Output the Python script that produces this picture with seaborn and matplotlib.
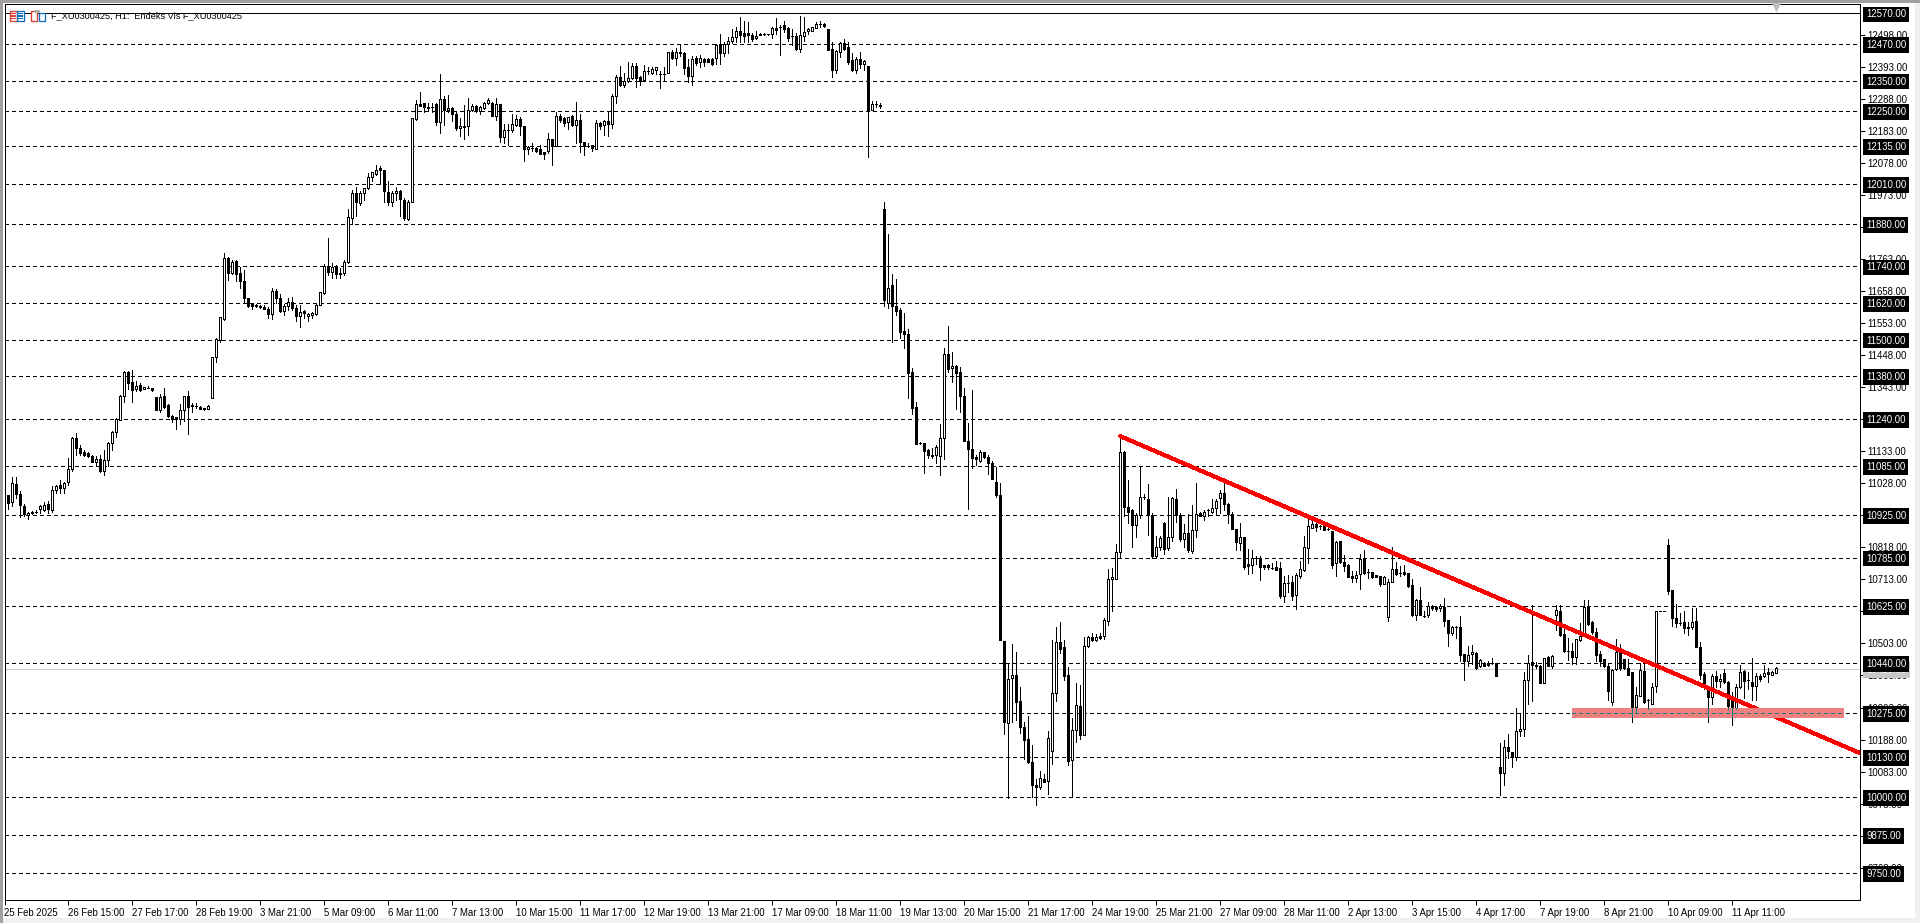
import matplotlib
matplotlib.use("Agg")
import matplotlib.pyplot as plt
from matplotlib.patches import Rectangle
import numpy as np
import pandas as pd
import seaborn as sns

# hourly candles, ten bars to a row
opens = [
    10990,10990,10966,11026,10994,10955,10923,10930,10935,10944,
    10940,10961,10940,11007,11023,11012,11032,11075,11177,11144,
    11131,11128,11119,11100,11108,11068,11105,11160,11197,11237,
    11316,11393,11360,11338,11351,11338,11341,11340,11312,11269,
    11315,11284,11250,11245,11239,11268,11315,11284,11283,11280,
    11276,11272,11310,11444,11499,11568,11768,11720,11757,11717,
    11693,11635,11616,11612,11609,11606,11599,11584,11661,11638,
    11594,11609,11625,11604,11576,11593,11577,11582,11585,11615,
    11652,11742,11722,11738,11715,11720,11755,11898,11981,11947,
    11981,11996,12033,12045,12062,12056,11985,11950,11980,11988,
    11958,11895,11952,12224,12274,12277,12264,12262,12274,12214,
    12291,12252,12261,12241,12195,12202,12202,12252,12265,12250,
    12260,12276,12275,12234,12272,12164,12189,12189,12203,12225,
    12202,12124,12128,12128,12125,12115,12120,12158,12135,12233,
    12226,12213,12234,12204,12219,12150,12135,12137,12127,12212,
    12205,12218,12208,12300,12361,12336,12347,12358,12398,12362,
    12351,12381,12374,12385,12372,12372,12374,12445,12425,12443,
    12439,12395,12366,12424,12412,12421,12420,12421,12423,12469,
    12442,12470,12479,12492,12512,12505,12505,12500,12490,12504,
    12502,12504,12503,12522,12527,12531,12522,12496,12496,12454,
    12497,12512,12514,12524,12536,12537,12519,12452,12383,12445,
    12472,12461,12418,12385,12420,12405,12398,12255,12272,12269,
    11930,11621,11680,11610,11597,11527,11520,11393,11278,11162,
    11160,11138,11122,11120,11118,11177,11452,11406,11413,11393,
    11314,11167,11141,11115,11101,11131,11115,11095,11033,10990,
    10510,10242,10389,10399,10314,10229,10190,10115,10039,10033,
    10059,10052,10149,10340,10507,10491,10399,10120,10218,10298,
    10204,10494,10523,10516,10526,10526,10576,10713,10714,10802,
    11132,10952,10940,10892,10924,10985,10978,10925,10791,10818,
    10897,10816,10851,10976,10925,10847,10867,10806,10876,10932,
    10920,10940,10935,10949,10980,10998,10962,10929,10880,10832,
    10854,10763,10761,10783,10785,10760,10760,10752,10755,10750,
    10660,10703,10704,10663,10723,10745,10815,10883,10894,10887,
    10889,10880,10871,10767,10838,10769,10761,10723,10719,10731,
    10780,10736,10736,10727,10723,10698,10589,10706,10748,10734,
    10736,10734,10695,10595,10645,10594,10598,10626,10623,10618,
    10623,10579,10536,10558,10556,10468,10447,10468,10473,10430,
    10436,10438,10439,10439,10098,10077,10164,10147,10131,10215,
    10223,10383,10443,10434,10430,10375,10458,10430,10595,10610,
    10533,10480,10479,10460,10515,10531,10624,10572,10542,10470,
    10451,10429,10310,10419,10476,10451,10422,10410,10296,10332,
    10412,10316,10306,10362,10610,10610,10827,10680,10586,10570,
    10573,10557,10557,10576,10492,10403,10359,10329,10395,10381,
    10407,10378,10316,10289,10359,10412,10382,10377,10364,10397,
    10397,10408,10401,10407,
]
closes = [
    10977,10964,11030,10994,10957,10927,10930,10936,10936,10954,
    10958,10945,11007,11020,11012,11030,11075,11177,11143,11128,
    11122,11117,11100,11108,11068,11105,11160,11197,11241,11315,
    11393,11359,11335,11347,11335,11344,11342,11335,11269,11312,
    11280,11248,11239,11239,11268,11314,11280,11282,11281,11274,
    11271,11283,11444,11501,11573,11768,11720,11756,11715,11693,
    11638,11611,11610,11609,11606,11601,11584,11661,11637,11594,
    11609,11624,11604,11576,11592,11586,11585,11586,11615,11657,
    11742,11722,11738,11715,11720,11755,11903,11981,11951,11981,
    11997,12033,12049,12056,12056,11986,11950,11981,11989,11961,
    11898,11952,12228,12274,12268,12263,12259,12262,12214,12290,
    12252,12261,12240,12195,12202,12199,12254,12265,12250,12262,
    12277,12287,12234,12272,12164,12189,12189,12206,12225,12201,
    12124,12132,12128,12120,12110,12110,12157,12134,12235,12220,
    12211,12232,12204,12219,12149,12135,12135,12128,12212,12200,
    12218,12208,12300,12361,12336,12348,12358,12398,12359,12349,
    12381,12381,12387,12393,12372,12372,12443,12425,12443,12440,
    12391,12366,12420,12409,12423,12411,12412,12405,12467,12440,
    12470,12479,12492,12512,12500,12497,12499,12487,12497,12499,
    12502,12503,12522,12517,12527,12519,12491,12496,12454,12499,
    12510,12519,12525,12536,12536,12529,12450,12383,12447,12472,
    12454,12410,12385,12420,12405,12415,12255,12273,12272,12267,
    11630,11670,11611,11594,11526,11519,11392,11277,11158,11160,
    11133,11120,11117,11149,11177,11452,11404,11415,11392,11316,
    11166,11140,11112,11107,11131,11114,11095,11042,10990,10513,
    10244,10386,10399,10310,10228,10185,10113,10038,10032,10062,
    10050,10193,10340,10507,10486,10397,10117,10218,10301,10204,
    10494,10523,10515,10523,10520,10579,10713,10720,10802,11132,
    10952,10935,10892,10924,10985,10985,10925,10791,10818,10848,
    10812,10851,10979,10925,10845,10867,10809,10876,10929,10922,
    10935,10940,10949,10971,10998,10962,10927,10878,10836,10854,
    10755,10758,10782,10783,10755,10755,10755,10752,10745,10660,
    10700,10703,10660,10729,10747,10818,10887,10894,10885,10887,
    10877,10880,10760,10837,10769,10758,10722,10717,10729,10780,
    10733,10736,10720,10722,10698,10720,10706,10746,10731,10734,
    10731,10693,10595,10645,10598,10594,10626,10618,10616,10627,
    10578,10536,10556,10557,10464,10447,10466,10475,10424,10448,
    10430,10433,10439,10395,10077,10164,10150,10130,10216,10223,
    10383,10439,10434,10430,10375,10455,10430,10462,10613,10531,
    10479,10480,10460,10517,10529,10622,10566,10540,10466,10446,
    10429,10348,10416,10476,10421,10424,10399,10283,10335,10415,
    10310,10316,10361,10610,10610,10610,10676,10588,10570,10570,
    10553,10553,10573,10492,10400,10359,10329,10395,10381,10388,
    10377,10299,10291,10359,10410,10381,10382,10362,10397,10386,
    10407,10404,10410,10421,
]
highs = [
    10997,10990,11049,11049,11002,10960,10933,10938,10942,10956,
    10967,10969,11019,11024,11038,11033,11111,11182,11193,11153,
    11139,11132,11122,11119,11122,11139,11163,11200,11244,11318,
    11398,11398,11400,11364,11357,11345,11348,11341,11312,11321,
    11340,11288,11252,11247,11289,11314,11332,11291,11293,11281,
    11276,11286,11444,11504,11573,11785,11771,11762,11760,11738,
    11727,11638,11618,11618,11612,11612,11607,11671,11667,11651,
    11618,11635,11640,11613,11613,11597,11586,11591,11621,11657,
    11747,11834,11751,11745,11735,11760,11928,11992,12001,11986,
    11997,12046,12051,12072,12070,12056,12022,11986,12001,11990,
    11965,11959,12228,12285,12314,12277,12277,12277,12276,12371,
    12298,12304,12262,12248,12228,12270,12293,12272,12270,12268,
    12279,12293,12278,12293,12274,12207,12207,12239,12236,12230,
    12202,12135,12144,12131,12140,12116,12179,12158,12247,12241,
    12230,12232,12236,12281,12241,12150,12144,12138,12222,12213,
    12222,12247,12306,12369,12398,12374,12411,12407,12407,12365,
    12400,12396,12393,12393,12380,12396,12445,12450,12458,12469,
    12445,12420,12431,12429,12434,12423,12423,12423,12469,12502,
    12478,12492,12518,12525,12557,12546,12541,12505,12513,12505,
    12505,12504,12527,12554,12532,12546,12527,12520,12505,12563,
    12560,12522,12525,12543,12544,12540,12519,12478,12450,12478,
    12487,12475,12440,12427,12444,12418,12398,12282,12282,12276,
    11952,11845,11714,11698,11605,11586,11534,11407,11295,11165,
    11161,11142,11144,11153,11224,11472,11544,11458,11416,11410,
    11340,11226,11335,11122,11139,11132,11122,11102,11082,11028,
    10510,10438,10502,10474,10360,10244,10266,10170,10059,10085,
    10076,10217,10515,10556,10573,10515,10425,10260,10373,10368,
    10524,10528,10537,10533,10537,10586,10747,10752,10829,11183,
    11134,11038,10944,10932,11085,10992,11027,10930,10856,10856,
    10902,10985,10985,11009,10930,10894,10927,10957,11028,10935,
    10941,10945,10978,10978,11007,11030,10965,10935,10880,10897,
    10854,10812,10810,10791,10791,10762,10765,10767,10774,10771,
    10725,10727,10725,10734,10774,10856,10924,10905,10899,10892,
    10890,10887,10873,10839,10840,10793,10763,10742,10742,10796,
    10809,10747,10736,10727,10723,10725,10715,10818,10771,10758,
    10761,10735,10715,10649,10690,10611,10638,10630,10625,10632,
    10652,10581,10560,10560,10593,10470,10495,10498,10476,10452,
    10443,10444,10455,10440,10175,10188,10206,10148,10291,10272,
    10411,10466,10630,10443,10432,10457,10462,10464,10630,10630,
    10564,10520,10504,10519,10570,10646,10646,10577,10553,10478,
    10453,10438,10420,10518,10500,10452,10451,10411,10359,10440,
    10451,10321,10373,10611,10610,10610,10845,10680,10631,10602,
    10608,10575,10618,10618,10508,10408,10365,10402,10413,10402,
    10418,10380,10345,10370,10432,10416,10410,10456,10405,10402,
    10432,10424,10413,10427,
]
lows = [
    10964,10945,10953,10980,10917,10920,10912,10928,10931,10931,
    10937,10932,10934,10996,10997,10996,11022,11068,11122,11122,
    11119,11115,11098,11086,11067,11057,11084,11139,11182,11237,
    11296,11337,11296,11332,11333,11338,11341,11332,11269,11261,
    11277,11247,11229,11207,11224,11233,11189,11264,11275,11273,
    11270,11271,11310,11427,11493,11564,11695,11716,11692,11670,
    11624,11607,11601,11607,11605,11600,11571,11568,11620,11591,
    11580,11598,11598,11560,11542,11572,11562,11572,11581,11615,
    11651,11712,11703,11703,11703,11712,11750,11880,11904,11943,
    11959,11994,12022,12040,12011,11950,11941,11937,11957,11905,
    11894,11892,11952,12220,12268,12248,12252,12248,12205,12178,
    12205,12248,12217,12189,12169,12159,12171,12249,12248,12239,
    12258,12274,12233,12220,12147,12145,12140,12182,12201,12171,
    12087,12110,12120,12115,12110,12093,12111,12073,12134,12214,
    12201,12190,12200,12146,12117,12106,12131,12120,12127,12191,
    12171,12169,12195,12276,12333,12328,12344,12355,12328,12336,
    12349,12372,12370,12372,12327,12347,12374,12421,12402,12431,
    12372,12344,12336,12402,12396,12398,12410,12401,12405,12405,
    12429,12442,12472,12476,12478,12478,12478,12479,12485,12498,
    12501,12498,12488,12503,12434,12510,12481,12467,12451,12445,
    12480,12502,12512,12521,12527,12527,12450,12363,12376,12427,
    12451,12405,12380,12376,12391,12385,12098,12254,12263,12260,
    11611,11605,11493,11580,11505,11473,11309,11256,11158,11159,
    11064,11112,11112,11096,11057,11107,11395,11362,11271,11264,
    11166,10944,11079,11088,11100,11112,11060,11042,10983,10513,
    10207,9997,10247,10253,10209,10124,10111,10000,9973,10024,
    10048,10008,10109,10313,10471,10384,10103,10000,10179,10190,
    10204,10491,10512,10512,10517,10518,10564,10611,10714,10785,
    10921,10897,10820,10851,10915,10976,10859,10785,10786,10810,
    10798,10810,10840,10900,10840,10821,10804,10801,10851,10920,
    10908,10922,10932,10929,10930,10940,10897,10878,10810,10810,
    10749,10731,10734,10763,10712,10747,10749,10747,10745,10652,
    10640,10673,10646,10616,10719,10742,10767,10881,10872,10880,
    10875,10875,10750,10725,10767,10742,10722,10704,10704,10682,
    10731,10717,10718,10722,10693,10697,10578,10704,10729,10725,
    10729,10689,10594,10581,10595,10589,10589,10614,10608,10610,
    10560,10496,10531,10520,10444,10382,10428,10436,10419,10425,
    10428,10428,10436,10395,10005,10040,10128,10097,10120,10201,
    10199,10304,10313,10422,10373,10375,10428,10421,10548,10526,
    10475,10449,10435,10436,10512,10528,10564,10533,10444,10429,
    10425,10316,10302,10417,10417,10418,10399,10246,10278,10330,
    10308,10287,10305,10343,10610,10610,10665,10559,10557,10565,
    10537,10530,10550,10492,10386,10353,10247,10305,10359,10359,
    10375,10289,10236,10287,10356,10324,10354,10319,10319,10381,
    10392,10377,10400,10406,
]

# horizontal levels drawn on the chart and the price scale ticks
levels = [12470, 12350, 12250, 12135, 12010, 11880, 11740, 11620, 11500, 11380, 11240,
          11085, 10925, 10785, 10625, 10440, 10275, 10130, 10000, 9875, 9750]
top_level = 12570
last_price = 10419
scale_ticks = [12498, 12393, 12288, 12183, 12078, 11973, 11868, 11763, 11658, 11553, 11448,
               11343, 11238, 11133, 11028, 10923, 10818, 10713, 10608, 10503, 10398, 10293,
               10188, 10083, 9978, 9873, 9768]
date_labels = ["25 Feb 2025", "26 Feb 15:00", "27 Feb 17:00", "28 Feb 19:00", "3 Mar 21:00",
               "5 Mar 09:00", "6 Mar 11:00", "7 Mar 13:00", "10 Mar 15:00", "11 Mar 17:00",
               "12 Mar 19:00", "13 Mar 21:00", "17 Mar 09:00", "18 Mar 11:00", "19 Mar 13:00",
               "20 Mar 15:00", "21 Mar 17:00", "24 Mar 19:00", "25 Mar 21:00", "27 Mar 09:00",
               "28 Mar 11:00", "2 Apr 13:00", "3 Apr 15:00", "4 Apr 17:00", "7 Apr 19:00",
               "8 Apr 21:00", "10 Apr 09:00", "11 Apr 11:00"]
date_step = 16

# analyst drawings: trend line and support band
trend_bars = [279, 464]
trend_prices = [11183, 10143]
band_bars = [392, 460]
band_prices = [10260, 10290]

FONT = "Liberation Sans"
FS = 6.9
PX = 0.72  # one pixel in points at dpi 100

sns.set_style("white")
plt.rcParams["font.family"] = [FONT, "DejaVu Sans"]

W, H = 1920, 923
fig = plt.figure(figsize=(W / 100, H / 100), dpi=100, facecolor="white")
ax = fig.add_axes([4.5 / W, 1 - 900 / H, (1860 - 4.5) / W, (900 - 4) / H])

bars = np.arange(len(opens))
df = pd.DataFrame({"bar": bars, "open": opens, "high": highs, "low": lows, "close": closes})
wicks = df.melt(id_vars="bar", value_vars=["low", "high"], value_name="price")

# grid levels
for lv in levels:
    ax.axhline(lv, color="black", lw=PX, dashes=(3, 3), antialiased=False, zorder=1)
ax.axhline(top_level, color="black", lw=PX, antialiased=False, zorder=1)
ax.axhline(last_price, color="#c8c8c8", lw=PX, antialiased=False, zorder=1)

# candles
sns.lineplot(data=wicks, x="bar", y="price", units="bar", estimator=None, sort=False,
             color="black", linewidth=PX, antialiased=False, legend=False, ax=ax, zorder=3)
up = df["close"] >= df["open"]
body_low = df[["open", "close"]].min(axis=1)
body_h = (df["close"] - df["open"]).abs()
ax.bar(df["bar"][up], body_h[up], bottom=body_low[up], width=0.5, facecolor="white",
       edgecolor="black", linewidth=PX, antialiased=False, zorder=4)
ax.bar(df["bar"][~up], body_h[~up], bottom=body_low[~up], width=0.5, facecolor="black",
       edgecolor="black", linewidth=PX, antialiased=False, zorder=4)

# trend line, with the band painted over it
ax.plot(trend_bars, trend_prices, color="#ff0000", lw=2.3, antialiased=False, zorder=5)
band = Rectangle((band_bars[0], band_prices[0]), band_bars[1] - band_bars[0],
                 band_prices[1] - band_prices[0], facecolor="#f08080", edgecolor="none", zorder=6)
ax.add_patch(band)
crossing = df[(df["low"] < band_prices[1]) & (df["high"] > band_prices[0])
              & (df["bar"] >= band_bars[0]) & (df["bar"] <= band_bars[1])]
teal = ax.vlines(crossing["bar"], crossing["low"], crossing["high"], color="#0f7f7f",
                 lw=PX, antialiased=False, zorder=7)
teal.set_clip_path(band)
ax.plot(band_bars, [10275, 10275], color="#0f7f7f", lw=PX, dashes=(3, 3), antialiased=False, zorder=7)

# scales
ax.set_xlim(0.05, 463.9)
ax.set_ylim(9750 - 27 / 0.3048, 12570 + 9.5 / 0.3048)
ax.set_xlabel("")
ax.set_ylabel("")
ax.yaxis.tick_right()
ax.set_yticks(scale_ticks, [f"{t:.2f}" for t in scale_ticks])
ax.set_xticks(np.arange(len(date_labels)) * date_step, date_labels, ha="left")
ax.tick_params(axis="y", right=True, length=3.6, width=PX, pad=1.5, labelsize=FS, colors="black")
ax.tick_params(axis="x", bottom=True, length=3.6, width=PX, pad=2, labelsize=FS, colors="black")
for side in ax.spines.values():
    side.set_visible(True)
    side.set_color("black")
    side.set_linewidth(PX)

# boxed price labels on the scale
def price_box(value, face, zorder):
    ax.annotate(f"{value:.2f}", xy=(1, value), xycoords=ax.get_yaxis_transform(),
                xytext=(4.5, 0), textcoords="offset points", ha="left", va="center_baseline",
                fontsize=FS, color="white", annotation_clip=False, zorder=zorder,
                bbox=dict(boxstyle="square,pad=0.3", facecolor=face, edgecolor="none"))

price_box(last_price, "#c8c8c8", 8)
for lv in [top_level] + levels:
    price_box(lv, "black", 9)

# shift marker and chart header
ax.plot([443], [12591], marker="v", ms=7.5, color="#c0c0c0", mec="none", clip_on=False, zorder=8)
ax.text(51 / W, 1 - 16 / H, "F_XU0300425, H1:  Endeks Vis F_XU0300425", transform=fig.transFigure,
        fontsize=6.6, color="black", va="center", ha="left", zorder=9)

def px_rect(x0, y0, x1, y1, **kw):
    fig.add_artist(Rectangle((x0 / W, 1 - y1 / H), (x1 - x0) / W, (y1 - y0) / H,
                             transform=fig.transFigure, **kw))

# window frame
px_rect(0, 0, W, 2.5, facecolor="#a0a0a0", edgecolor="none")
px_rect(0, 0, 2.5, H, facecolor="#a0a0a0", edgecolor="none")
px_rect(1915, 2.5, W, H, facecolor="#f0f0f0", edgecolor="none")
px_rect(2.5, 918, W, H, facecolor="#f0f0f0", edgecolor="none")

# header icons
px_rect(9.5, 10.5, 16.5, 20.5, facecolor="white", edgecolor="#e03c32", lw=PX * 1.3)
px_rect(16.5, 10.5, 23.5, 20.5, facecolor="white", edgecolor="#0f6cbd", lw=PX * 1.3)
for yy in (13, 15.5, 18):
    px_rect(11, yy, 15.5, yy + 1, facecolor="#e03c32", edgecolor="none")
    px_rect(18, yy, 22.5, yy + 1, facecolor="#0f6cbd", edgecolor="none")
px_rect(30.5, 10.5, 36.5, 20.5, facecolor="white", edgecolor="#e03c32", lw=PX * 1.3)
px_rect(38.5, 12.5, 44.5, 20.5, facecolor="white", edgecolor="#0f6cbd", lw=PX * 1.3)
px_rect(35, 10, 40, 13, facecolor="#b0b0b0", edgecolor="none")

fig.savefig("out.png", dpi=100, facecolor=fig.get_facecolor())
